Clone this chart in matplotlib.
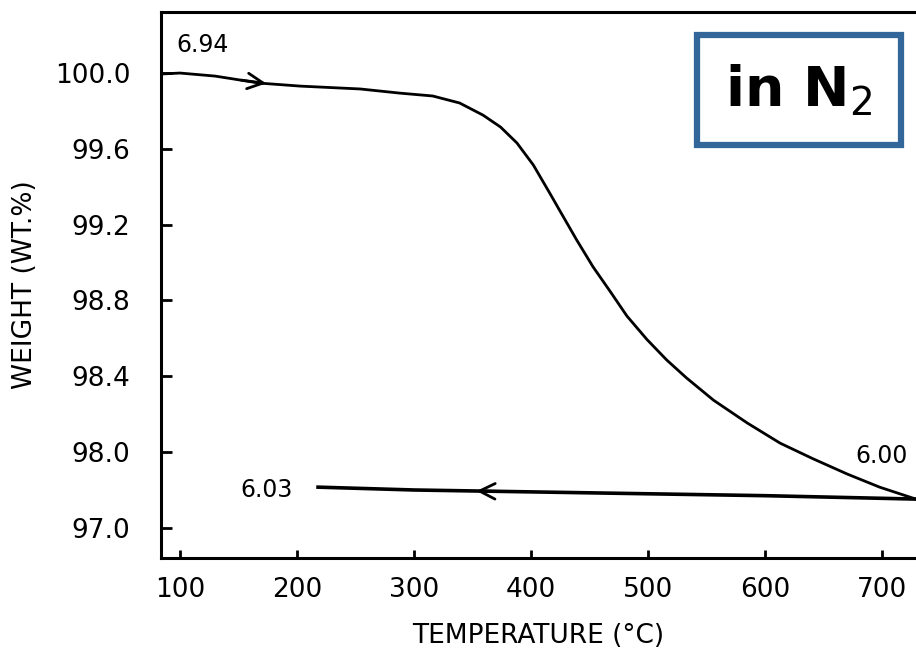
import numpy as np
import matplotlib
matplotlib.use('Agg')
import matplotlib.pyplot as plt

# heating run in N2
heat_temp = [84, 100, 130, 168, 203, 254, 288, 316, 339, 359, 374, 388, 402,
             416, 425, 439, 453, 468, 482, 499, 516, 533, 556, 585, 613, 641,
             670, 698, 729]
heat_weight = [99.995, 100.0, 99.984, 99.947, 99.931, 99.916, 99.894, 99.879,
               99.842, 99.778, 99.715, 99.631, 99.515, 99.367, 99.27, 99.12,
               98.978, 98.845, 98.718, 98.595, 98.486, 98.391, 98.274, 98.153,
               98.047, 97.965, 97.885, 97.815, 97.752]

# cooling run
cool_temp = [729, 600, 500, 400, 300, 218]
cool_weight = [97.752, 97.77, 97.78, 97.79, 97.80, 97.815]

x_ticks = [100, 200, 300, 400, 500, 600, 700]
y_ticks = [100.0, 99.6, 99.2, 98.8, 98.4, 98.0, 97.6]
y_tick_labels = ['100.0', '99.6', '99.2', '98.8', '98.4', '98.0', '97.0']

plt.rcParams['font.family'] = ['DejaVu Sans']

fig = plt.figure(figsize=(9.16, 6.5), dpi=100)
ax = fig.add_axes([0.1758, 0.1415, 0.8242, 0.84])

ax.plot(heat_temp, heat_weight, color='black', lw=2.0)
ax.plot(cool_temp, cool_weight, color='black', lw=2.6)


# direction arrows
def arrow_on(xs, ys, x0, x1):
    order = np.argsort(xs)
    xs_s = np.array(xs)[order]
    ys_s = np.array(ys)[order]
    y0 = np.interp(x0, xs_s, ys_s)
    y1 = np.interp(x1, xs_s, ys_s)
    ax.annotate('', xy=(x1, y1), xytext=(x0, y0),
                arrowprops=dict(arrowstyle='->', color='black', lw=2,
                                mutation_scale=28))


arrow_on(heat_temp, heat_weight, 150, 176)
arrow_on(cool_temp, cool_weight, 380, 351)

ax.text(119, 100.15, '6.94', fontsize=17, ha='center', va='center')
ax.text(174, 97.80, '6.03', fontsize=17, ha='center', va='center')
ax.text(677, 97.98, '6.00', fontsize=17, ha='left', va='center')

ax.text(0.845, 0.857, r'in N$_2$', transform=ax.transAxes, fontsize=40,
        fontweight='bold', ha='center', va='center',
        bbox=dict(boxstyle='square,pad=0.5', fc='white', ec='#336699', lw=4.5))

ax.set_xlim(83.8, 729.1)
ax.set_ylim(97.441, 100.322)
ax.set_xticks(x_ticks)
ax.set_yticks(y_ticks)
ax.set_yticklabels(y_tick_labels)
ax.tick_params(axis='both', direction='in', width=2, labelsize=19)
ax.tick_params(axis='y', length=8, pad=22)
ax.tick_params(axis='x', length=6, pad=14)

for side in ['left', 'bottom', 'top']:
    ax.spines[side].set_linewidth(2.2)
ax.spines['right'].set_visible(False)

ax.set_xlabel('TEMPERATURE (°C)', fontsize=19, labelpad=14)
ax.set_ylabel('WEIGHT (WT.%)', fontsize=19, labelpad=12)

fig.savefig('out.png', dpi=100)
